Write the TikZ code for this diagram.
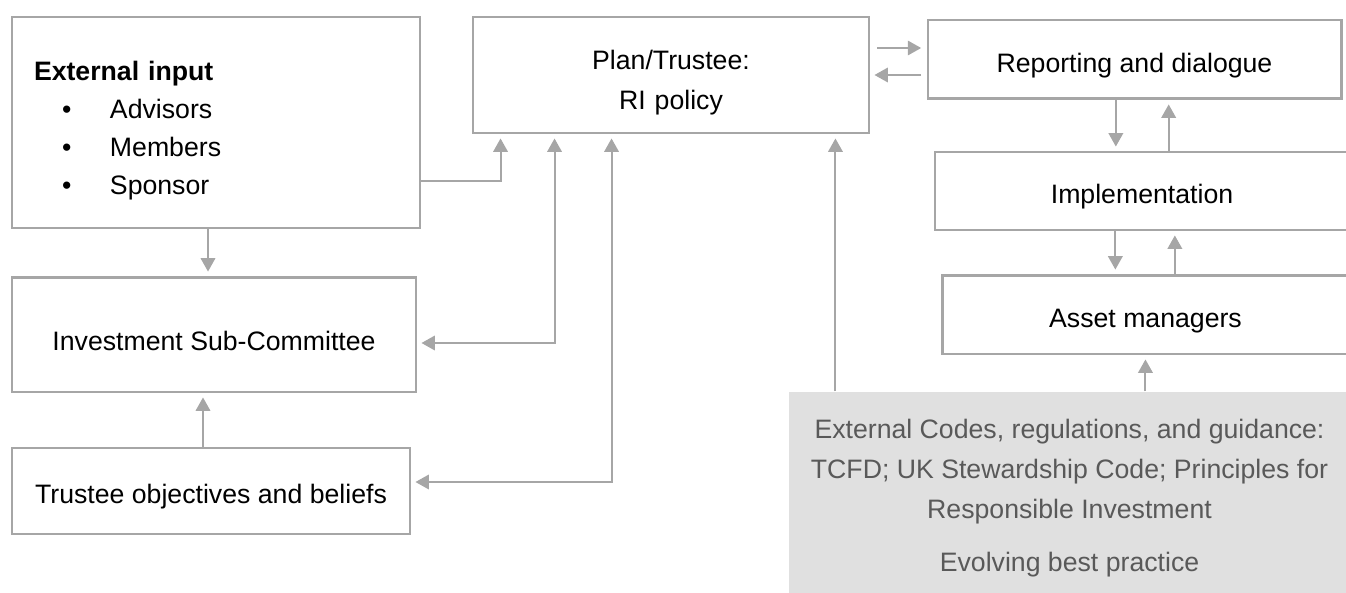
\documentclass[tikz,border=0pt]{standalone}
\usepackage{fontspec}
\setmainfont{Liberation Sans}
\usetikzlibrary{arrows.meta, positioning, calc}
\definecolor{boxgray}{HTML}{A6A6A6}
\definecolor{codefill}{HTML}{E0E0E0}
\definecolor{codetext}{HTML}{595959}
\tikzset{
  box/.style={rectangle, draw=boxgray, fill=white, line width=1.1pt,
    align=center, inner sep=0pt, font=\fontsize{10}{15}\selectfont,
    execute at begin node={\rule{0pt}{11.8pt}}},
  tallbox/.style={box, execute at begin node={\rule{0pt}{13.3pt}}},
  codebox/.style={rectangle, fill=codefill, text=codetext, align=center,
    inner sep=0pt, font=\fontsize{10}{15}\selectfont},
  arrow/.style={-{Triangle[length=5pt,width=5.4pt]}, line width=0.75pt,
    color=boxgray, shorten >=1.5pt},
  dblarrow/.style={{Triangle[length=5pt,width=5.4pt]}-{Triangle[length=5pt,width=5.4pt]},
    line width=0.75pt, color=boxgray, shorten >=1.5pt, shorten <=1.5pt}
}

\begin{document}
\begin{tikzpicture}[x=0.375pt, y=-0.375pt]
  \useasboundingbox (0,0) rectangle (1346,592);

  % Boxes on the left
  \node[tallbox, minimum width=153pt, minimum height=79.1pt, text width=136.5pt,
    inner xsep=8.25pt, align=left, font=\fontsize{10}{14.2}\selectfont] (ext) at (216,122.5)
    {\textbf{External input}\\
     \hspace*{10.5pt}\makebox[18pt][l]{\textbullet}Advisors\\
     \hspace*{10.5pt}\makebox[18pt][l]{\textbullet}Members\\
     \hspace*{10.5pt}\makebox[18pt][l]{\textbullet}Sponsor};
  \node[box, minimum width=151.5pt, minimum height=43.1pt] (isc) at (214,334.5) {Investment Sub-Committee};
  \node[box, minimum width=149.25pt, minimum height=32.25pt] (trust) at (211,491) {Trustee objectives and beliefs};

  % Policy box
  \node[tallbox, minimum width=148.5pt, minimum height=43.5pt, text width=140pt] (plan) at (671,75) {Plan/Trustee:\\RI policy};

  % Chain on the right
  \node[box, minimum width=154.9pt, minimum height=29.6pt] (report) at (1134.5,59.5) {Reporting and dialogue};
  \node[box, minimum width=155.25pt, minimum height=29.25pt] (impl) at (1142,191) {Implementation};
  \node[box, minimum width=152.6pt, minimum height=29.6pt] (asset) at (1145.5,314.5) {Asset managers};

  % External codes (grey panel, runs off the page)
  \node[codebox, minimum width=210.4pt, minimum height=79.5pt] (codes) at (1069.5,498)
    {External Codes, regulations, and guidance:\\
     TCFD; UK Stewardship Code; Principles for\\
     Responsible Investment\\[5pt]
     Evolving best practice};

  % Connections on the left
  \draw[arrow] ([xshift=-3pt]ext.south) -- ([xshift=-3pt]ext.south |- isc.north);
  \draw[arrow] ([xshift=-3pt]trust.north) -- ([xshift=-3pt]trust.north |- isc.south);
  \draw[arrow] ($(ext.east)+(0,58.5)$) -| ($(plan.south west)+(29,0)$);
  \draw[dblarrow] ($(isc.east)+(0,8.5)$) -| ($(plan.south west)+(83,0)$);
  \draw[dblarrow] ($(trust.east)+(0,-9)$) -| ($(plan.south west)+(140,0)$);

  % Policy and reporting
  \draw[arrow, shorten >=2pt] ($(plan.east)+(7,-27)$) coordinate (pr) -- (pr -| report.west);
  \draw[arrow, shorten <=2pt] (plan.east -| report.west) -- (plan.east);

  % Right-hand chain
  \draw[arrow] ([xshift=-7pt]report.south) -- ([xshift=-7pt]report.south |- impl.north);
  \draw[arrow] ([xshift=10pt]impl.north) -- ([xshift=10pt]impl.north |- report.south);
  \draw[arrow] ([xshift=-10pt]impl.south) -- ([xshift=-10pt]impl.south |- asset.north);
  \draw[arrow] ([xshift=11pt]asset.north) -- ([xshift=11pt]asset.north |- impl.south);

  % Codes feed upwards
  \draw[arrow] ($(codes.north west)+(357,0)$) coordinate (ca) -- (ca |- asset.south);
  \draw[arrow] ($(codes.north west)+(47,0)$) coordinate (cp) -- (cp |- plan.south);
\end{tikzpicture}
\end{document}
